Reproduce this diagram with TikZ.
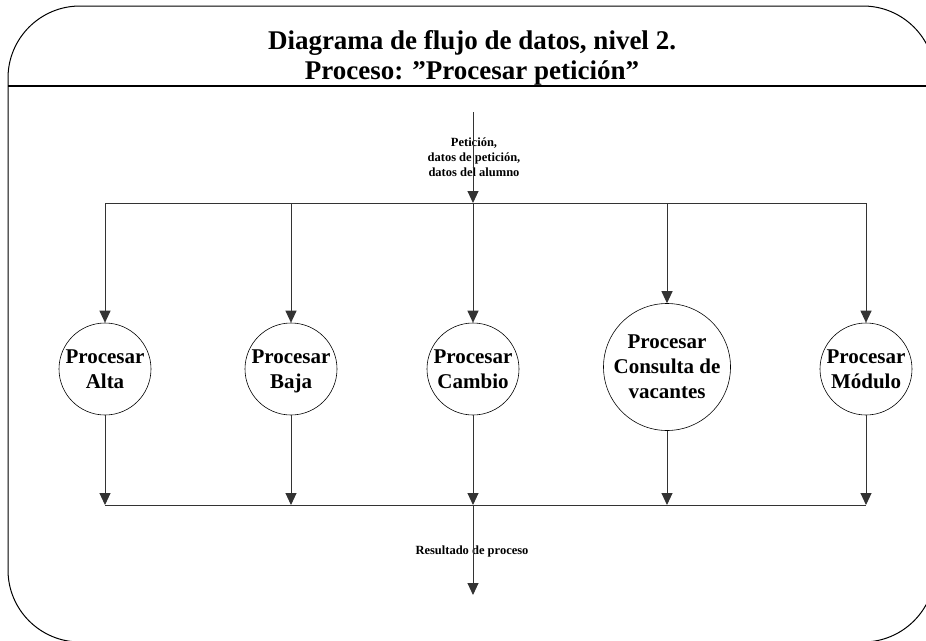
\documentclass[tikz,border=0pt]{standalone}
\usepackage{fontspec}
\setmainfont{Liberation Serif}
\usepackage{tikz}
\usetikzlibrary{arrows.meta}

\begin{document}
\begin{tikzpicture}[x=1pt,y=-1pt,
  proc/.style={circle,draw,line width=0.6pt,inner sep=0pt,minimum size=92pt,align=center,font=\fontsize{21}{25}\selectfont\bfseries},
  flow/.style={draw=black!80,line width=1pt},
  arr/.style={flow,-{Triangle[width=11pt,length=12pt]}},
  lbl/.style={align=center,font=\fontsize{12.5}{15}\selectfont\bfseries}]
\useasboundingbox (0,0) rectangle (926,640);
\draw[line width=1pt,rounded corners=72pt] (8,6) rectangle (935,642);
\draw[line width=1.2pt] (8,86) -- (935,86);
\node[align=center,font=\fontsize{27}{30}\selectfont\bfseries] (titulo) at (472,58) {Diagrama de flujo de datos, nivel 2.\\Proceso: ”Procesar petición”};

\node[proc] (alta) at (105,369) {Procesar\\Alta};
\node[proc] (baja) at (291,369) {Procesar\\Ba\smash{j}a};
\node[proc] (cambio) at (473,369) {Procesar\\Cambio};
\node[proc,minimum size=127pt] (consulta) at (667,367) {Procesar\\Consulta de\\vacantes};
\node[proc] (modulo) at (866,369) {Procesar\\Módulo};

\coordinate (in) at (473,112);
\coordinate (ta) at (105,203);
\coordinate (tb) at (291,203);
\coordinate (tc) at (473,203);
\coordinate (tv) at (667,203);
\coordinate (tm) at (866,203);
\coordinate (ba) at (105,505);
\coordinate (bb) at (291,505);
\coordinate (bc) at (473,505);
\coordinate (bv) at (667,505);
\coordinate (bm) at (866,505);
\coordinate (out) at (473,595);

\node[lbl] (peticion) at (474,157) {Petición,\\datos de petición,\\datos del alumno};
\node[lbl] (resultado) at (472,551) {Resultado de proceso};

\draw[arr] (in) -- (tc);
\draw[flow] (ta) -- (tm);
\draw[arr] (ta) -- (alta);
\draw[arr] (tb) -- (baja);
\draw[arr] (tc) -- (cambio);
\draw[arr] (tv) -- (consulta);
\draw[arr] (tm) -- (modulo);

\draw[arr] (alta) -- (ba);
\draw[arr] (baja) -- (bb);
\draw[arr] (cambio) -- (bc);
\draw[arr] (consulta) -- (bv);
\draw[arr] (modulo) -- (bm);
\draw[flow] (ba) -- (bm);
\draw[arr] (bc) -- (out);
\end{tikzpicture}
\end{document}
